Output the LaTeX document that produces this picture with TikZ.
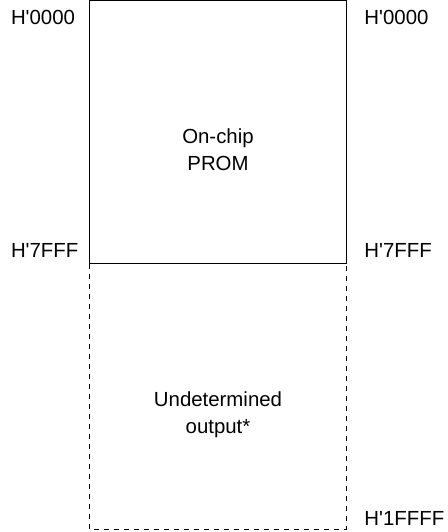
\documentclass[tikz,border=0pt]{standalone}
\usepackage{fontspec}
\setmainfont{Liberation Sans}[Ligatures=TeXOff]
\tikzset{addr/.style={anchor=base west,inner sep=0pt},
  area/.style={align=center,anchor=north,inner sep=0pt}}
\begin{document}
\begin{tikzpicture}[x=0.5pt,y=-0.5pt,font=\fontsize{10.2}{13.6}\selectfont,line width=0.5pt]
	\useasboundingbox (0,0) rectangle (448,532);
	\draw (90,0.5) rectangle (346.5,263.5);
	\draw[dash pattern=on 2.5pt off 2.5pt] (90,263.5)--(90,529)--(346.5,529)--(346.5,263.5);
	\node[area] (prom) at (218,128.5) {On-chip\\PROM};
	\node[area] (undef) at (218,391.5) {Undetermined\\output*};
	\node[addr] (top l) at (10.5,24) {H'0000};
	\node[addr] (top r) at (364,24) {H'0000};
	\node[addr] (mid l) at (10.5,257) {H'7FFF};
	\node[addr] (mid r) at (364,257) {H'7FFF};
	\node[addr] (end r) at (364,525) {H'1FFFF};
\end{tikzpicture}
\end{document}
